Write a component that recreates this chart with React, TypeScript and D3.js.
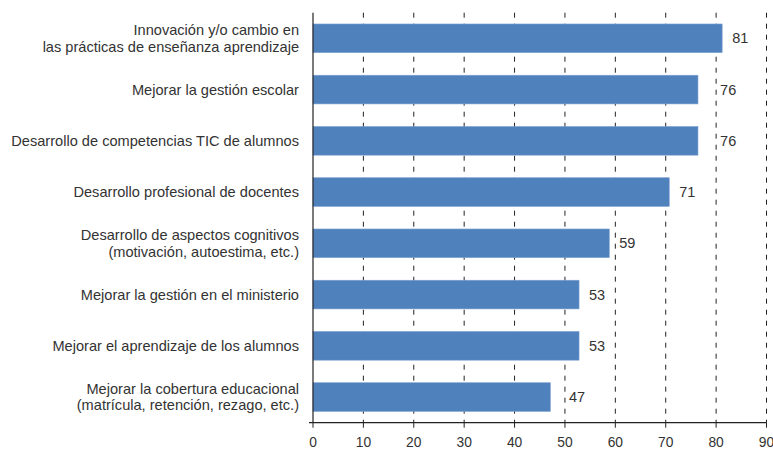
import React from "react";
import * as d3 from "d3";

const categories: string[][] = [
  ["Innovación y/o cambio en", "las prácticas de enseñanza aprendizaje"],
  ["Mejorar la gestión escolar"],
  ["Desarrollo de competencias TIC de alumnos"],
  ["Desarrollo profesional de docentes"],
  ["Desarrollo de aspectos cognitivos", "(motivación, autoestima, etc.)"],
  ["Mejorar la gestión en el ministerio"],
  ["Mejorar el aprendizaje de los alumnos"],
  ["Mejorar la cobertura educacional", "(matrícula, retención, rezago, etc.)"],
];
const values: number[] = [81.2, 76.4, 76.4, 70.7, 58.8, 52.8, 52.8, 47.1];
const xTicks: number[] = [0, 10, 20, 30, 40, 50, 60, 70, 80, 90];

const W = 773;
const H = 449;
const FONT = "'Liberation Sans', Arial, sans-serif";
const TEXT = "#333333";

export default function App() {
  const left = 313;
  const right = 766.5;
  const top = 12.7;
  const bottom = 422.7;
  const x = d3.scaleLinear().domain([0, 90]).range([left, right]);
  const ids = categories.map((_, i) => String(i));
  const y = d3
    .scaleBand<string>()
    .domain(ids)
    .range([top, bottom])
    .paddingInner(0.44)
    .paddingOuter(0.22);
  const fmt = d3.format(".0f");
  const valueFont = 14.5;
  const labelW = 16;

  // place value label right of the bar, nudged past any gridline it would cross
  const labelX = (v: number) => {
    let lx = x(v) + 10;
    for (const t of xTicks.slice(1)) {
      const gx = x(t);
      if (lx < gx && lx + labelW > gx) lx = gx + 4;
    }
    return lx;
  };

  return (
    <svg
      width={W}
      height={H}
      style={{ position: "absolute", left: 0, top: 0, display: "block", background: "#fff" }}
      fontFamily={FONT}
    >
      {xTicks.slice(1).map((t) => (
        <line
          key={"g" + t}
          x1={x(t)}
          x2={x(t)}
          y1={top}
          y2={bottom}
          stroke="#222"
          strokeWidth={1}
          strokeDasharray="5,6"
        />
      ))}
      {values.map((v, i) => (
        <rect
          key={"b" + i}
          x={x(0)}
          y={y(ids[i])!}
          width={x(v) - x(0)}
          height={y.bandwidth()}
          fill="#4F81BD"
          stroke="#7FA3D3"
          strokeWidth={0.6}
        />
      ))}
      {values.map((v, i) => (
        <text
          key={"v" + i}
          x={labelX(v)}
          y={y(ids[i])! + y.bandwidth() / 2}
          dominantBaseline="central"
          fontSize={valueFont}
          fill={TEXT}
        >
          {fmt(v)}
        </text>
      ))}
      {categories.map((lines, i) => {
        const cy = y(ids[i])! + y.bandwidth() / 2;
        const lh = 16.5;
        return (
          <text
            key={"c" + i}
            x={299}
            textAnchor="end"
            fontSize={14.6}
            fill={TEXT}
            dominantBaseline="central"
          >
            {lines.map((l, j) => (
              <tspan key={j} x={299} y={cy + (j - (lines.length - 1) / 2) * lh}>
                {l}
              </tspan>
            ))}
          </text>
        );
      })}
      <line x1={x(0)} x2={x(0)} y1={top} y2={bottom} stroke="#222" strokeWidth={1.2} />
      <line x1={x(0) - 4} x2={right} y1={bottom} y2={bottom} stroke="#222" strokeWidth={1.2} />
      {xTicks.map((t) => (
        <g key={"t" + t}>
          <line x1={x(t)} x2={x(t)} y1={bottom} y2={bottom + 5} stroke="#222" strokeWidth={1} />
          <text x={x(t)} y={446.5} textAnchor="middle" fontSize={13.8} fill={TEXT}>
            {t}
          </text>
        </g>
      ))}
    </svg>
  );
}
